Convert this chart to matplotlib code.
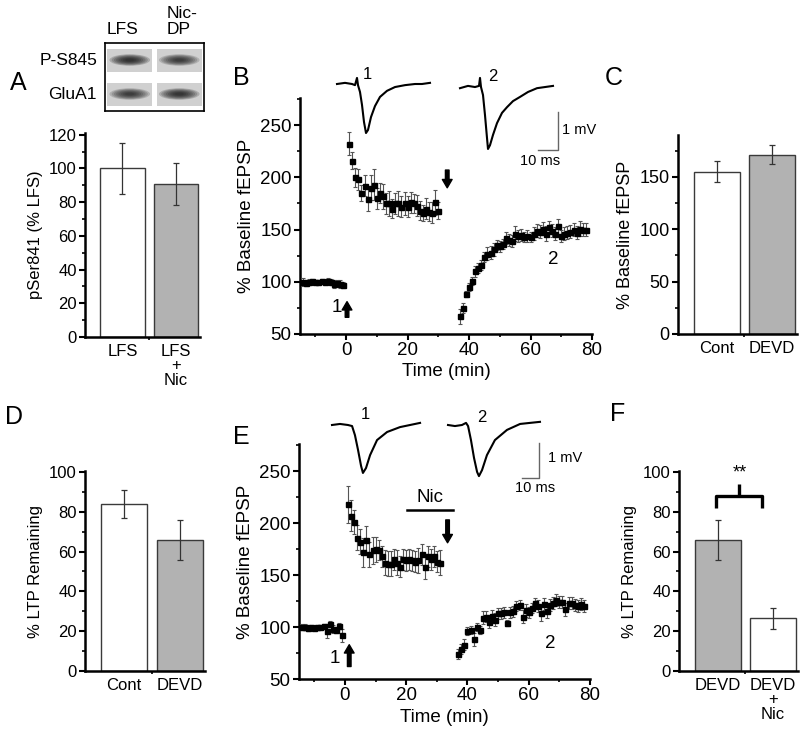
import matplotlib
matplotlib.use('Agg')
import matplotlib.pyplot as plt
import numpy as np
from matplotlib.patches import Rectangle, Ellipse
from matplotlib.ticker import MultipleLocator, FixedLocator

plt.rcParams['font.family'] = ['Liberation Sans', 'DejaVu Sans']

# ---------------- data ----------------
# panel B time course (% baseline fEPSP)
b_base_t = np.arange(-14, 0)
b_base = [100, 99, 100, 101, 100, 100, 101, 100, 101, 100, 98, 99, 98, 97]
b_base_err = [4, 3, 3, 2, 2, 2, 2, 2, 3, 3, 4, 3, 4, 3]
b_post_t = np.arange(1, 31)
b_post = [232, 216, 200, 198, 185, 192, 179, 190, 193, 180, 185, 182, 175, 175, 170,
          175, 175, 172, 175, 172, 176, 175, 173, 168, 166, 170, 167, 166, 176, 168]
b_post_err = [11, 8, 9, 10, 8, 10, 11, 12, 15, 10, 10, 12, 10, 12, 9,
              10, 12, 10, 11, 10, 10, 9, 10, 9, 8, 10, 9, 10, 12, 8]
b_rec_t = np.arange(37, 79)
b_rec = [67, 75, 88, 95, 101, 110, 113, 116, 124, 127, 128, 131, 135, 134, 136,
         142, 140, 139, 146, 144, 145, 143, 144, 143, 146, 149, 148, 151, 146, 152,
         149, 146, 153, 144, 146, 147, 148, 150, 147, 151, 150, 150]
b_rec_err = [7, 5, 3, 4, 4, 5, 5, 5, 5, 6, 6, 6, 5, 5, 5, 6, 6, 6, 7, 6, 6,
             5, 6, 5, 6, 6, 6, 6, 7, 6, 6, 6, 7, 6, 6, 6, 6, 6, 6, 7, 6, 6]

# panel E time course
e_base_t = np.arange(-14, 0)
e_base = [100, 100, 99, 100, 99, 100, 100, 101, 96, 103, 98, 97, 101, 92]
e_base_err = [3, 3, 3, 2, 2, 2, 2, 2, 7, 3, 4, 3, 3, 6]
e_post_t = np.arange(1, 32)
e_post = [218, 207, 201, 186, 182, 172, 184, 170, 174, 175, 174, 168, 162, 161, 161,
          165, 162, 158, 165, 164, 165, 164, 163, 164, 170, 158, 168, 165, 168, 163, 162]
e_post_err = [18, 15, 12, 12, 12, 14, 13, 12, 13, 12, 10, 10, 12, 12, 12,
              10, 12, 10, 10, 10, 10, 10, 10, 12, 10, 12, 10, 10, 10, 10, 12]
e_rec_t = np.arange(37, 79)
e_rec = [74, 79, 83, 96, 97, 88, 100, 97, 109, 110, 105, 111, 107, 113, 113,
         114, 104, 114, 115, 120, 121, 110, 116, 114, 118, 123, 120, 113, 122, 115,
         121, 123, 126, 124, 124, 117, 123, 123, 121, 120, 122, 120]
e_rec_err = [5, 5, 5, 4, 4, 6, 4, 4, 6, 5, 6, 5, 6, 5, 5, 5, 3, 5, 5, 5, 5,
             6, 6, 5, 5, 5, 6, 7, 6, 6, 6, 6, 6, 6, 6, 6, 6, 6, 6, 6, 6, 6]

# example fEPSP traces (ms, mV)
b_tr1_t = [0, 4, 7.5, 9, 10, 10.5, 11.5, 12.5, 13.5, 14.5, 15.5, 17, 19, 21.5, 25, 29, 34, 39, 42.5, 46.5]
b_tr1_v = [0, 0.03, 0, -0.03, 0.16, -0.03, -0.21, -0.55, -1.0, -1.29, -1.21, -0.87, -0.58,
           -0.34, -0.18, -0.08, -0.03, 0, 0, 0.03]
b_tr2_t = [0, 4, 7.5, 9.5, 10, 10.5, 11.5, 12.5, 13.5, 14, 15, 16.5, 18.5, 21, 23.5, 26.5,
           30, 34, 38.5, 42.5, 46.5]
b_tr2_v = [-0.03, 0.03, 0, 0.03, 0.24, 0, -0.21, -0.74, -1.34, -1.63, -1.53, -1.26, -0.95,
           -0.68, -0.53, -0.37, -0.26, -0.13, -0.03, 0, 0.03]
e_tr1_t = [0, 4.7, 9.4, 11.8, 13.5, 15.3, 17.1, 18.2, 20, 22.4, 26.5, 32.4, 40, 45.9, 51.8]
e_tr1_v = [0, 0.03, 0, -0.03, -0.29, -0.71, -1.17, -1.37, -1.23, -0.86, -0.43, -0.2,
           -0.06, 0, 0.06]
e_tr2_t = [0, 4.1, 8.2, 10.6, 11.8, 13.5, 15.3, 17.1, 18.2, 20, 22.9, 27.6, 34.7, 42.4, 48.2, 54.1]
e_tr2_v = [0, -0.03, 0, 0.06, -0.03, -0.43, -0.94, -1.34, -1.46, -1.29, -0.86, -0.43,
           -0.14, 0.03, 0.06, 0.09]

# bar panels
a_labels = ['LFS', 'LFS\n+\nNic']
a_vals = [100, 90.5]
a_errs = [15, 12.5]
c_labels = ['Cont', 'DEVD']
c_vals = [155, 171]
c_errs = [10, 9]
d_labels = ['Cont', 'DEVD']
d_vals = [84, 66]
d_errs = [7, 10]
f_labels = ['DEVD', 'DEVD\n+\nNic']
f_vals = [66, 26.5]
f_errs = [10, 5.2]

# western blot: rows x lanes band intensity
blot_rows = ['P-S845', 'GluA1']
blot_lanes = ['LFS', 'Nic-\nDP']
blot_band = [[1.0, 0.85], [0.85, 0.95]]

WHITE = 'white'
GRAY = '#b2b2b2'

W, H = 800, 735
fig = plt.figure(figsize=(8, 7.35), dpi=100)


def px_axes(x0, y0, x1, y1):
    return fig.add_axes([x0 / W, 1 - y1 / H, (x1 - x0) / W, (y1 - y0) / H])


def style(ax, fs):
    for s in ['top', 'right']:
        ax.spines[s].set_visible(False)
    for s in ['left', 'bottom']:
        ax.spines[s].set_linewidth(1.8)
    ax.tick_params(which='major', direction='out', length=4, width=1.5, labelsize=fs, pad=2)
    ax.tick_params(which='minor', direction='out', length=2.2, width=1.2)


def bar_panel(ax, labels, vals, errs, colors, ytop, major, minor, ylabel):
    x = np.arange(len(vals))
    ax.bar(x, vals, width=0.83, color=colors, edgecolor='#3a3a3a', linewidth=1.0, zorder=2)
    ax.errorbar(x, vals, yerr=errs, fmt='none', ecolor='#333333', elinewidth=0.9,
                capsize=2, capthick=0.9, zorder=3)
    ax.set_xlim(-0.7, 1.45)
    ax.set_ylim(0, ytop)
    ax.set_xticks(x)
    ax.set_xticklabels(labels, linespacing=0.95)
    ax.xaxis.set_minor_locator(FixedLocator([0.5]))
    ax.yaxis.set_major_locator(MultipleLocator(major))
    ax.yaxis.set_minor_locator(MultipleLocator(minor))
    style(ax, 12)
    ax.tick_params(axis='x', which='major', length=0, pad=5)
    ax.set_ylabel(ylabel, fontsize=12)


def timecourse(ax, segments):
    for t, v, e in segments:
        ax.errorbar(t, v, yerr=e, fmt='s', ms=3.6, mfc='k', mec='k', ecolor='#555555',
                    elinewidth=0.8, capsize=1.6, capthick=0.8, zorder=3)
    ax.set_xlim(-15, 80)
    ax.set_ylim(50, 276)
    ax.xaxis.set_major_locator(MultipleLocator(20))
    ax.xaxis.set_minor_locator(MultipleLocator(10))
    ax.yaxis.set_major_locator(MultipleLocator(50))
    ax.yaxis.set_minor_locator(MultipleLocator(25))
    style(ax, 13.5)
    ax.set_xlabel('Time (min)', fontsize=13.5, labelpad=3)
    ax.set_ylabel('% Baseline fEPSP', fontsize=13.5, labelpad=4)


def arrow(ax, x, tail, tip):
    ax.annotate('', xy=(x, tip), xytext=(x, tail),
                arrowprops=dict(facecolor='k', edgecolor='k', width=2.6, headwidth=7,
                                headlength=6, shrink=0))


def trace_axes(x0, y0, x1, y1, px_ms, px_mv, base_px):
    ax = px_axes(x0, y0, x1, y1)
    ax.set_xlim(0, (x1 - x0) / px_ms)
    top = (base_px - y0) / px_mv
    ax.set_ylim(top - (y1 - y0) / px_mv, top)
    ax.axis('off')
    return ax


# ---------------- panel A ----------------
blot = px_axes(105, 43, 204, 111)
blot.set_xlim(0, 2)
blot.set_ylim(2, 0)
blot.set_xticks([])
blot.set_yticks([])
for s in blot.spines.values():
    s.set_linewidth(1.2)
for j, row in enumerate(blot_rows):
    for i, lane in enumerate(blot_lanes):
        blot.add_patch(Rectangle((i + 0.05, j + 0.17), 0.9, 0.68, color='#d0d0d0', lw=0))
        for k in range(8):
            f = 1 - k * 0.11
            blot.add_patch(Ellipse((i + 0.5, j + 0.5), 0.82 * f, 0.34 * f, color='#151515',
                                   alpha=0.2 * blot_band[j][i], lw=0))
    blot.text(-0.16, j + 0.52, row, ha='right', va='center', fontsize=12.5)
blot.text(0.36, -0.18, blot_lanes[0], ha='center', va='bottom', fontsize=12.5)
blot.text(1.25, -0.18, blot_lanes[1], ha='left', va='bottom', fontsize=12.5, linespacing=1.05)

ax_a = px_axes(85, 133, 200, 337)
bar_panel(ax_a, a_labels, a_vals, a_errs, [WHITE, GRAY], 121, 20, 10, 'pSer841 (% LFS)')

# ---------------- panel B ----------------
ax_b = px_axes(300, 98, 592, 334)
timecourse(ax_b, [(b_base_t, b_base, b_base_err), (b_post_t, b_post, b_post_err),
                  (b_rec_t, b_rec, b_rec_err)])
arrow(ax_b, 0.3, 66, 81)
arrow(ax_b, 32.9, 207, 190)
ax_b.text(-3.1, 75, '1', fontsize=13.5, ha='center', va='center')
ax_b.text(67.4, 121, '2', fontsize=13.5, ha='center', va='center')

tb = trace_axes(320, 60, 580, 170, 2.0, 38, 84)
tb.plot(8.5 + np.array(b_tr1_t), b_tr1_v, color='k', lw=1.5)
tb.plot(70 + np.array(b_tr2_t), np.array(b_tr2_v) - 0.08, color='k', lw=1.5)
tb.plot([119, 119, 109], [-0.737, -1.737, -1.737], color='#666666', lw=1.0)
tb.text(23.5, 0.26, '1', fontsize=12, ha='center', va='center')
tb.text(86.5, 0.2, '2', fontsize=12, ha='center', va='center')
tb.text(121, -1.21, '1 mV', fontsize=10.5, ha='left', va='center')
tb.text(110, -2.02, '10 ms', fontsize=10.5, ha='center', va='center')

# ---------------- panel C ----------------
ax_c = px_axes(678, 135, 797, 334)
bar_panel(ax_c, c_labels, c_vals, c_errs, [WHITE, GRAY], 190, 50, 25, '% Baseline fEPSP')
ax_c.tick_params(axis='y', labelsize=13)
ax_c.yaxis.label.set_size(13)

# ---------------- panel D ----------------
ax_d = px_axes(85, 471, 205, 671)
bar_panel(ax_d, d_labels, d_vals, d_errs, [WHITE, GRAY], 100.5, 20, 10, '% LTP Remaining')

# ---------------- panel E ----------------
ax_e = px_axes(299, 444, 590, 679)
timecourse(ax_e, [(e_base_t, e_base, e_base_err), (e_post_t, e_post, e_post_err),
                  (e_rec_t, e_rec, e_rec_err)])
arrow(ax_e, 1.4, 62, 83)
arrow(ax_e, 33.5, 203, 181)
ax_e.plot([20.2, 35.4], [213, 213], color='k', lw=1.8)
ax_e.text(27.8, 216, 'Nic', fontsize=13.5, ha='center', va='bottom')
ax_e.text(-3.3, 69.5, '1', fontsize=13.5, ha='center', va='center')
ax_e.text(67, 84, '2', fontsize=13.5, ha='center', va='center')

te = trace_axes(320, 405, 580, 500, 1.7, 35, 425)
te.plot(7.06 + np.array(e_tr1_t), e_tr1_v, color='k', lw=1.5)
te.plot(75.3 + np.array(e_tr2_t), e_tr2_v, color='k', lw=1.5)
te.plot([128.8, 128.8, 118.8], [-0.514, -1.514, -1.514], color='#666666', lw=1.0)
te.text(26.5, 0.29, '1', fontsize=12, ha='center', va='center')
te.text(95.3, 0.2, '2', fontsize=12, ha='center', va='center')
te.text(134, -0.94, '1 mV', fontsize=10.5, ha='left', va='center')
te.text(126.5, -1.8, '10 ms', fontsize=10.5, ha='center', va='center')

# ---------------- panel F ----------------
ax_f = px_axes(679, 471, 798, 671)
bar_panel(ax_f, f_labels, f_vals, f_errs, [GRAY, WHITE], 100.5, 20, 10, '% LTP Remaining')
ax_f.plot([-0.04, -0.04, 0.8, 0.8], [82, 88, 88, 82], color='k', lw=2.4, solid_capstyle='butt')
ax_f.plot([0.39, 0.39], [88, 94], color='k', lw=2.4, solid_capstyle='butt')
ax_f.text(0.39, 95, '**', fontsize=13, ha='center', va='bottom')

# ---------------- panel letters ----------------
for letter, x, y in [('A', 10, 83), ('B', 233, 78), ('C', 605, 78),
                     ('D', 5, 417), ('E', 233, 437), ('F', 610, 414)]:
    fig.text(x / W, 1 - y / H, letter, fontsize=18, ha='left', va='center')

fig.savefig('out.png', dpi=100)
